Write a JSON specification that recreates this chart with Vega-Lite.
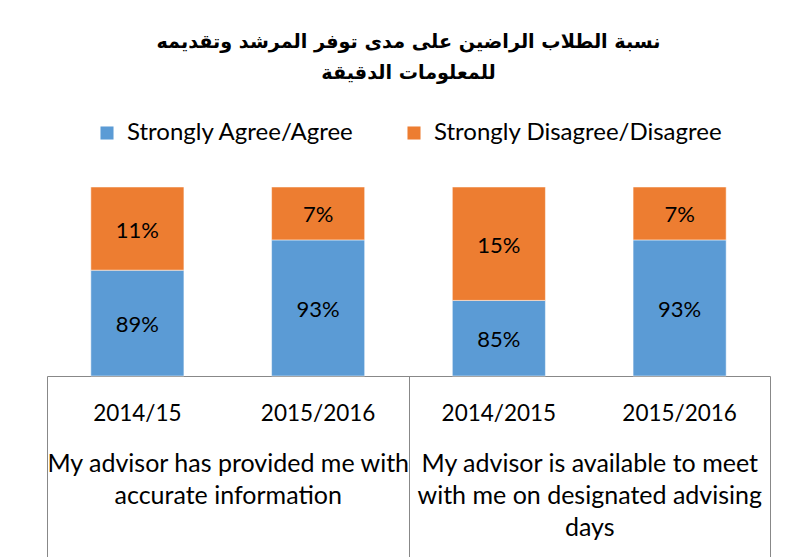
{
  "$schema": "https://vega.github.io/schema/vega-lite/v6.json",
  "autosize": "none",
  "width": 723,
  "height": 189,
  "padding": {"left": 47, "top": 187, "right": 24, "bottom": 181},
  "background": "white",
  "title": {
    "text": ["نسبة الطلاب الراضين على مدى توفر المرشد وتقديمه", "للمعلومات الدقيقة"],
    "font": "DejaVu Sans",
    "fontSize": 19.2,
    "fontWeight": "bold",
    "color": "black",
    "lineHeight": 31,
    "anchor": "middle",
    "offset": 38
  },
  "data": {
    "values": [
      {"key": "A|2014/15", "question": "My advisor has provided me with\naccurate information", "series": "Strongly Agree/Agree", "value": 0.89},
      {"key": "A|2014/15", "question": "My advisor has provided me with\naccurate information", "series": "Strongly Disagree/Disagree", "value": 0.11},
      {"key": "A|2015/2016", "question": "My advisor has provided me with\naccurate information", "series": "Strongly Agree/Agree", "value": 0.93},
      {"key": "A|2015/2016", "question": "My advisor has provided me with\naccurate information", "series": "Strongly Disagree/Disagree", "value": 0.07},
      {"key": "B|2014/2015", "question": "My advisor is available to meet\nwith me on designated advising\ndays", "series": "Strongly Agree/Agree", "value": 0.85},
      {"key": "B|2014/2015", "question": "My advisor is available to meet\nwith me on designated advising\ndays", "series": "Strongly Disagree/Disagree", "value": 0.15},
      {"key": "B|2015/2016", "question": "My advisor is available to meet\nwith me on designated advising\ndays", "series": "Strongly Agree/Agree", "value": 0.93},
      {"key": "B|2015/2016", "question": "My advisor is available to meet\nwith me on designated advising\ndays", "series": "Strongly Disagree/Disagree", "value": 0.07}
    ]
  },
  "layer": [
    {
      "layer": [
        {
          "mark": {"type": "bar", "stroke": "white", "strokeWidth": 0.5},
          "encoding": {
            "x": {
              "field": "key", "type": "nominal", "sort": null,
              "scale": {"paddingInner": 0.485, "paddingOuter": 0.2425},
              "axis": {
                "orient": "bottom", "title": null, "domain": false, "ticks": false,
                "labelExpr": "split(datum.value, '|')[1]",
                "labelFont": "Lato", "labelFontSize": 22.5, "labelColor": "black",
                "labelPadding": 26, "labelAngle": 0, "labelLimit": 300
              }
            },
            "y": {
              "field": "value", "type": "quantitative", "stack": "zero",
              "scale": {"domain": [0.75, 1], "clamp": true, "nice": false, "zero": false},
              "axis": null
            },
            "order": {"field": "series", "sort": "ascending"},
            "color": {
              "field": "series", "type": "nominal",
              "scale": {"domain": ["Strongly Agree/Agree", "Strongly Disagree/Disagree"], "range": ["#5B9BD5", "#ED7D31"]},
              "legend": {
                "orient": "top", "direction": "horizontal", "title": null,
                "symbolType": "square", "symbolSize": 170, "symbolStrokeWidth": 0,
                "labelFont": "Lato", "labelFontSize": 24, "labelColor": "black",
                "labelLimit": 400, "columnPadding": 47, "labelOffset": 8, "offset": 42
              }
            }
          }
        },
        {
          "transform": [
            {"calculate": "datum.series == 'Strongly Agree/Agree' ? (0.75 + datum.value) / 2 : 1 - datum.value / 2", "as": "mid"}
          ],
          "mark": {"type": "text", "font": "Lato", "fontSize": 22, "color": "black", "baseline": "middle", "dy": 2},
          "encoding": {
            "x": {"field": "key", "type": "nominal", "sort": null},
            "y": {"field": "mid", "type": "quantitative"},
            "text": {"field": "value", "type": "quantitative", "format": ".0%"}
          }
        }
      ]
    },
    {
      "mark": {"type": "point", "opacity": 0},
      "encoding": {
        "x": {
          "field": "question", "type": "nominal", "sort": null,
          "scale": {"paddingInner": 0, "paddingOuter": 0},
          "axis": {
            "orient": "bottom", "title": null, "domain": true, "domainColor": "#888888",
            "ticks": true, "tickBand": "extent", "tickSize": 181, "tickColor": "#888888",
            "labelExpr": "isValid(datum.value) ? split(datum.value, '\\n') : ''",
            "labelFont": "Lato", "labelFontSize": 25, "labelColor": "black",
            "labelPadding": -106, "labelAngle": 0, "labelLimit": 400, "labelLineHeight": 32
          }
        }
      }
    }
  ],
  "resolve": {"scale": {"x": "independent"}, "axis": {"x": "independent"}},
  "config": {
    "view": {"stroke": null},
    "legend": {"layout": {"top": {"anchor": "middle"}}}
  }
}
